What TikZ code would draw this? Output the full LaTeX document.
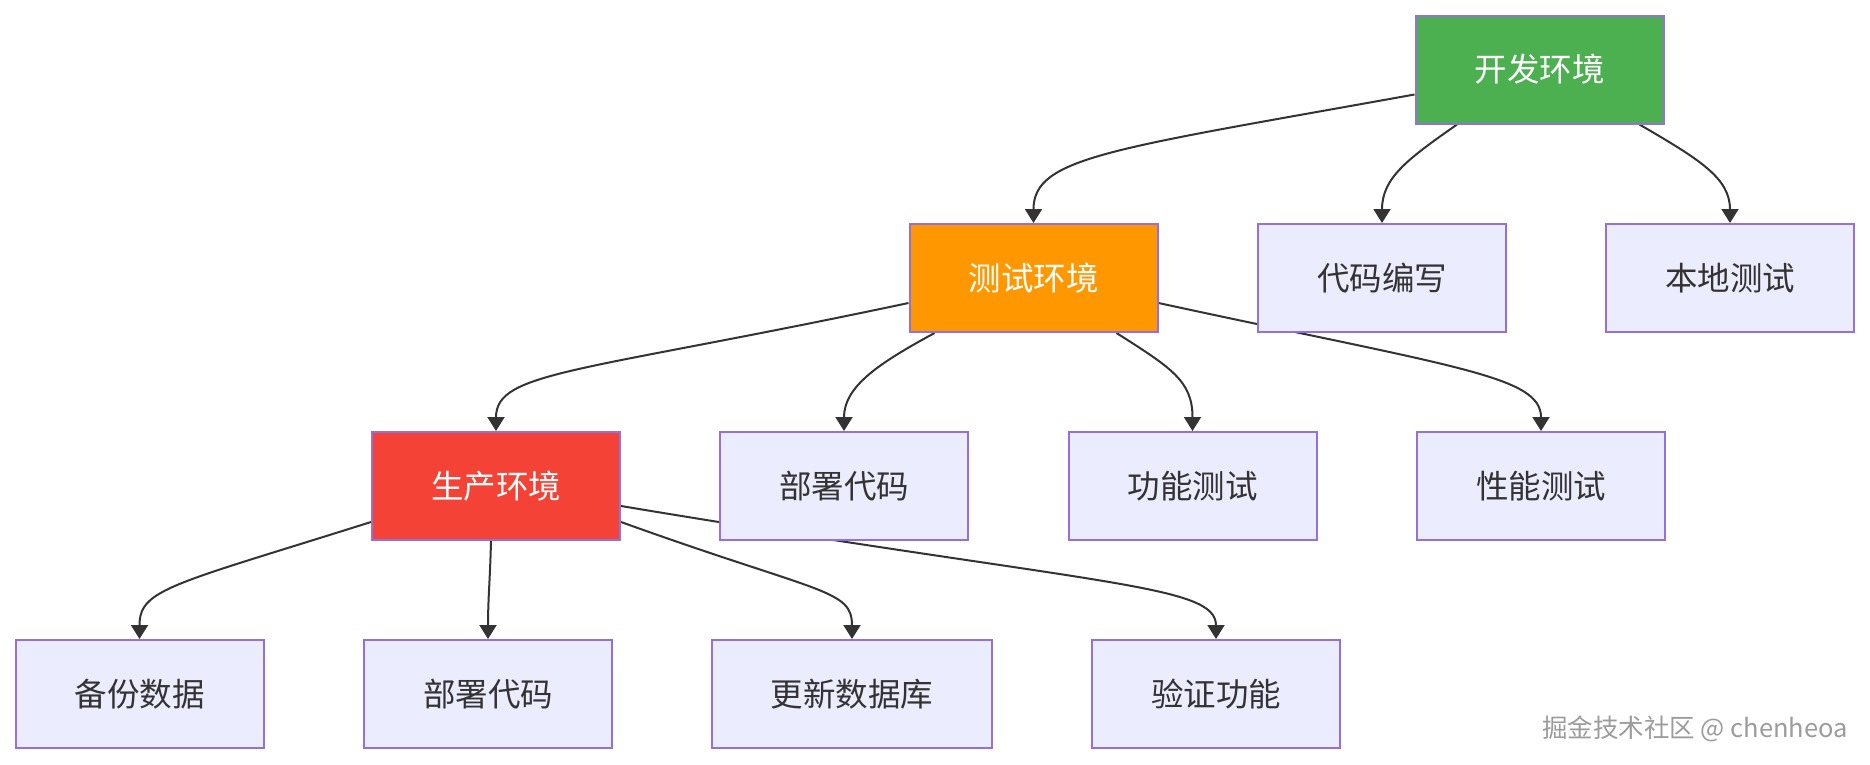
\documentclass[tikz,border=0pt]{standalone}
\usepackage{fontspec}
\setmainfont{Noto Sans CJK SC}
\newfontfamily\cjk{Noto Sans CJK SC}
\usetikzlibrary{arrows.meta,calc,backgrounds}
\definecolor{nodefill}{HTML}{ECECFF}
\definecolor{nodeline}{HTML}{9370DB}
\definecolor{edgecol}{HTML}{333333}
\definecolor{txt}{HTML}{333333}
\definecolor{devgreen}{HTML}{4CAF50}
\definecolor{testorange}{HTML}{FF9800}
\definecolor{prodred}{HTML}{F44336}
\definecolor{wm}{HTML}{9C9C9C}
\tikzset{
  box/.style={draw=nodeline, line width=2pt, fill=nodefill, minimum height=108pt,
    minimum width=248pt, inner sep=0pt, text=txt, font=\cjk\fontsize{32.5}{38}\selectfont},
  colbox/.style={box, text=white},
  edge/.style={draw=edgecol, line width=2pt, -{Triangle[length=14pt,width=17pt]}},
}
\begin{document}
\begin{tikzpicture}[x=1pt,y=-1pt]
\useasboundingbox (0,0) rectangle (1870,764);
% nodes
\node[colbox, fill=devgreen] (dev) at (1539.5,69.5) {开发环境};
\node[colbox, fill=testorange] (test) at (1033.5,278) {测试环境};
\node[box] (code) at (1382,278) {代码编写};
\node[box] (local) at (1730,278) {本地测试};
\node[colbox, fill=prodred] (prod) at (496,486) {生产环境};
\node[box] (dep1) at (844,486) {部署代码};
\node[box] (func) at (1192.5,486) {功能测试};
\node[box] (perf) at (1541,486) {性能测试};
\node[box] (backup) at (139.5,694) {备份数据};
\node[box] (dep2) at (488,694) {部署代码};
\node[box, minimum width=280pt] (upd) at (852,694) {更新数据库};
\node[box] (verify) at (1216,694) {验证功能};
% edges (drawn behind the nodes)
\begin{pgfonlayer}{background}
\fill[white] (0,0) rectangle (1870,764);
\draw[edge] ([yshift=-25pt]dev.west) .. controls +(-305,55) and +(0,-66) .. (test.north);
\draw[edge] ([xshift=-82.5pt]dev.south) .. controls +(-50,35) and +(0,-45) .. (code.north);
\draw[edge] ([xshift=100pt]dev.south) .. controls +(60,35) and +(0,-45) .. (local.north);
\draw[edge] ([yshift=-25pt]test.west) .. controls +(-330,70) and +(0,-60) .. (prod.north);
\draw[edge] ([xshift=-99pt]test.south) .. controls +(-55,30) and +(0,-45) .. (dep1.north);
\draw[edge] ([xshift=83pt]test.south) .. controls +(55,35) and +(0,-50) .. (func.north);
\draw[edge] ([yshift=-25pt]test.east) .. controls +(300,65) and +(0,-55) .. (perf.north);
\draw[edge] ([yshift=-36pt]prod.west) .. controls +(-200,63) and +(0,-50) .. (backup.north);
\draw[edge] ([xshift=-5pt]prod.south) .. controls +(-1,40) and +(0,-40) .. (dep2.north);
\draw[edge] ([yshift=-36pt]prod.east) .. controls +(200,72) and +(0,-50) .. (upd.north);
\draw[edge] ([yshift=-20pt]prod.east) .. controls +(480,80) and +(0,-55) .. (verify.north);
\end{pgfonlayer}
% watermark
\node[anchor=east, inner sep=0pt, text=wm, font=\cjk\fontsize{25.5}{30}\selectfont] (wmark) at (1848,729) {掘金技术社区 @ chenheoa};
\end{tikzpicture}
\end{document}
